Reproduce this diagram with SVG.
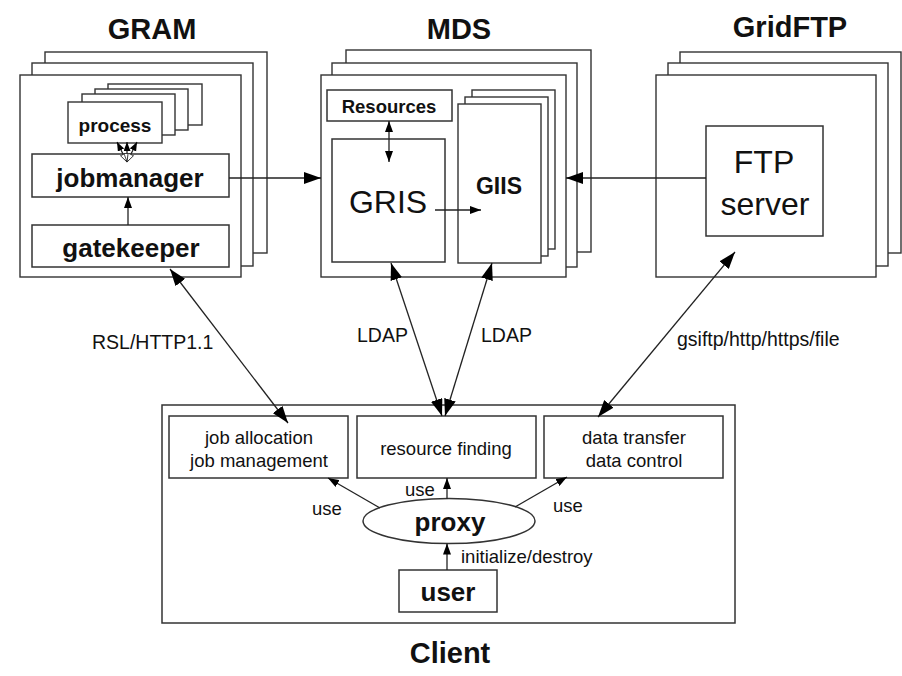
<svg xmlns="http://www.w3.org/2000/svg" width="902" height="676" viewBox="0 0 902 676">
<style>
.fr{fill:#fff;stroke:#333;stroke-width:1.4}
.bx{fill:#fff;stroke:#333;stroke-width:1.5}
.t{font-family:"Liberation Sans",Arial,sans-serif;fill:#111}
.b{font-weight:bold}
.c{text-anchor:middle}
.ln{stroke:#222;stroke-width:1.3;fill:none}
</style>
<defs>
<marker id="big" markerUnits="userSpaceOnUse" markerWidth="18" markerHeight="12" refX="17" refY="6" orient="auto-start-reverse"><path d="M0,0 L17,6 L0,12 z" fill="#000"/></marker>
<marker id="sm" markerUnits="userSpaceOnUse" markerWidth="11" markerHeight="8" refX="11" refY="4" orient="auto-start-reverse"><path d="M0,0 L11,4 L0,8 z" fill="#000"/></marker>
<marker id="tiny" markerUnits="userSpaceOnUse" markerWidth="10" markerHeight="8" refX="9" refY="3.5" orient="auto-start-reverse"><path d="M0,0 L9,3.5 L0,7 z" fill="#000"/></marker>
<marker id="open" markerUnits="userSpaceOnUse" markerWidth="10" markerHeight="8" refX="9" refY="3.5" orient="auto-start-reverse"><path d="M0.5,0.5 L9,3.5 L0.5,6.5 z" fill="#fff" stroke="#222" stroke-width="0.8"/></marker>
</defs>

<text class="t b c" x="152" y="39" font-size="29">GRAM</text>
<text class="t b c" x="459" y="39" font-size="29">MDS</text>
<text class="t b c" x="790" y="37" font-size="29">GridFTP</text>

<g id="gram">
<rect class="fr" x="45" y="52" width="222" height="201"/>
<rect class="fr" x="32" y="63" width="221" height="203"/>
<rect class="fr" x="20" y="75" width="221" height="202"/>
<g id="process">
<rect class="fr" x="108" y="84" width="94" height="41"/>
<rect class="fr" x="95" y="89" width="93" height="41"/>
<rect class="fr" x="82" y="94" width="93" height="41"/>
<rect class="fr" x="68" y="102" width="94" height="41"/>
<text class="t b c" x="115" y="132" font-size="19">process</text>
</g>
<g id="jobmanager">
<rect class="bx" x="32" y="154" width="197" height="43"/>
<text class="t b c" x="130" y="187" font-size="26">jobmanager</text>
</g>
<g id="gatekeeper">
<rect class="bx" x="32" y="225" width="197" height="42"/>
<text class="t b c" x="131" y="257" font-size="26">gatekeeper</text>
</g>
</g>

<g id="mds">
<rect class="fr" x="346" y="50" width="245" height="202"/>
<rect class="fr" x="332" y="63" width="245" height="204"/>
<rect class="fr" x="321" y="75" width="245" height="202"/>
<g id="resources">
<rect class="bx" x="327" y="90" width="125" height="31"/>
<text class="t b c" x="389" y="113" font-size="18.5">Resources</text>
</g>
<g id="gris">
<rect class="bx" x="332" y="139" width="113" height="123"/>
<text class="t c" x="388" y="213" font-size="32">GRIS</text>
</g>
<g id="giis">
<rect class="fr" x="472" y="90" width="83" height="159"/>
<rect class="fr" x="465" y="97" width="83" height="159"/>
<rect class="fr" x="458" y="104" width="83" height="159"/>
<text class="t b c" x="499" y="194" font-size="23">GIIS</text>
</g>
</g>

<g id="gridftp">
<rect class="fr" x="680" y="52" width="221" height="201"/>
<rect class="fr" x="668" y="63" width="220" height="203"/>
<rect class="fr" x="656" y="75" width="220" height="202"/>
<g id="ftpserver">
<rect class="bx" x="706" y="126" width="117" height="110"/>
<text class="t c" x="764" y="173" font-size="32">FTP</text>
<text class="t c" x="765" y="215" font-size="32">server</text>
</g>
</g>

<g id="client">
<rect class="bx" x="162" y="405" width="573" height="218"/>
<g id="joballoc">
<rect class="bx" x="169" y="416" width="179" height="62"/>
<text class="t c" x="259" y="444" font-size="18.5">job allocation</text>
<text class="t c" x="259" y="467" font-size="18.5">job management</text>
</g>
<g id="resfind">
<rect class="bx" x="357" y="416" width="179" height="62"/>
<text class="t c" x="446" y="455" font-size="18.5">resource finding</text>
</g>
<g id="datatransfer">
<rect class="bx" x="544" y="416" width="179" height="62"/>
<text class="t c" x="634" y="444" font-size="18.5">data transfer</text>
<text class="t c" x="634" y="467" font-size="18.5">data control</text>
</g>
<g id="proxy">
<ellipse class="bx" cx="449" cy="521" rx="86" ry="22.5"/>
<text class="t b c" x="450" y="531" font-size="26">proxy</text>
</g>
<g id="user">
<rect class="bx" x="399" y="570" width="98" height="42"/>
<text class="t b c" x="448" y="601" font-size="26">user</text>
</g>
</g>
<text class="t b c" x="450" y="663" font-size="29">Client</text>

<g id="connectors">
<line class="ln" x1="127" y1="162" x2="117" y2="142" marker-start="url(#open)" marker-end="url(#tiny)"/>
<line class="ln" x1="127" y1="162" x2="127" y2="142" marker-start="url(#open)" marker-end="url(#tiny)"/>
<line class="ln" x1="127" y1="162" x2="137" y2="142" marker-start="url(#open)" marker-end="url(#tiny)"/>
<line class="ln" x1="128" y1="225" x2="128" y2="197" marker-end="url(#sm)"/>
<line class="ln" x1="229" y1="178" x2="321" y2="178" marker-end="url(#big)"/>
<line class="ln" x1="706" y1="178" x2="566" y2="178" marker-end="url(#big)"/>
<line class="ln" x1="389" y1="121" x2="389" y2="162" marker-start="url(#sm)" marker-end="url(#sm)"/>
<line class="ln" x1="435" y1="210" x2="481" y2="210" marker-end="url(#sm)"/>
<line class="ln" x1="170" y1="269" x2="288" y2="423" marker-start="url(#big)" marker-end="url(#big)"/>
<line class="ln" x1="391" y1="263" x2="442" y2="416" marker-start="url(#big)" marker-end="url(#big)"/>
<line class="ln" x1="492" y1="263" x2="445" y2="416" marker-start="url(#big)" marker-end="url(#big)"/>
<line class="ln" x1="735" y1="252" x2="598" y2="417" marker-start="url(#big)" marker-end="url(#big)"/>
<line class="ln" x1="447" y1="499" x2="447" y2="478" marker-end="url(#sm)"/>
<line class="ln" x1="380" y1="508" x2="328" y2="478" marker-end="url(#sm)"/>
<line class="ln" x1="515" y1="507" x2="567" y2="477" marker-end="url(#sm)"/>
<line class="ln" x1="447" y1="570" x2="447" y2="543.5" marker-end="url(#sm)"/>
<text class="t" x="92" y="349" font-size="19.5">RSL/HTTP1.1</text>
<text class="t" x="357" y="342" font-size="19.5">LDAP</text>
<text class="t" x="481" y="342" font-size="19.5">LDAP</text>
<text class="t" x="677" y="346" font-size="19.5">gsiftp/http/https/file</text>
<text class="t" x="312" y="515" font-size="18.5">use</text>
<text class="t" x="405" y="496" font-size="18.5">use</text>
<text class="t" x="553" y="512" font-size="18.5">use</text>
<text class="t" x="461" y="563" font-size="18.5">initialize/destroy</text>
</g>
</svg>
